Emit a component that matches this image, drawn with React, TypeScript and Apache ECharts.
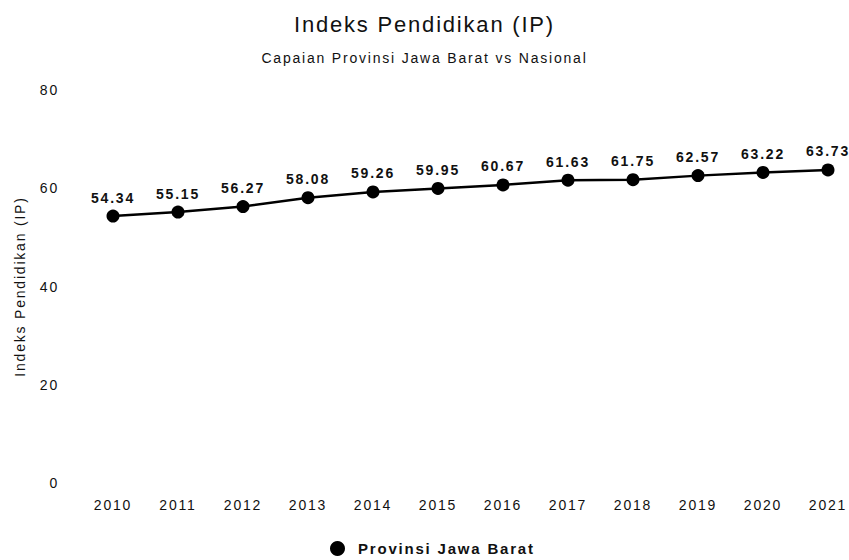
import React, { useEffect, useRef } from "react";
import * as echarts from "echarts";

const years = ["2010", "2011", "2012", "2013", "2014", "2015", "2016", "2017", "2018", "2019", "2020", "2021"];
const jabarIP = [54.34, 55.15, 56.27, 58.08, 59.26, 59.95, 60.67, 61.63, 61.75, 62.57, 63.22, 63.73];
const seriesName = "Provinsi Jawa Barat";
const titleText = "Indeks Pendidikan (IP)";
const subtitleText = "Capaian Provinsi Jawa Barat vs Nasional";
const yAxisName = "Indeks Pendidikan (IP)";
const yMin = 0;
const yMax = 80;
const yInterval = 20;

const FONT = "'Liberation Sans', Arial, Helvetica, sans-serif";

export default function App() {
  const ref = useRef<HTMLDivElement>(null);

  useEffect(() => {
    if (!ref.current) return;
    const chart = echarts.init(ref.current, undefined, { renderer: "svg" });
    chart.setOption({
      animation: false,
      backgroundColor: "#ffffff",
      title: {
        text: titleText,
        subtext: subtitleText,
        left: "center",
        top: 8,
        itemGap: 16,
        textStyle: { fontFamily: FONT, fontSize: 22, fontWeight: "normal", color: "#111" },
        subtextStyle: { fontFamily: FONT, fontSize: 14, color: "#111" },
      },
      legend: {
        data: [seriesName],
        top: 536,
        left: 325,
        icon: "circle",
        itemWidth: 31,
        itemHeight: 15,
        textStyle: { fontFamily: FONT, fontSize: 15, fontWeight: "bold", color: "#111" },
      },
      grid: { left: 113, right: 21, top: 90, bottom: 77, containLabel: false },
      xAxis: {
        type: "category",
        data: years,
        boundaryGap: false,
        axisLine: { show: false },
        axisTick: { show: false },
        splitLine: { show: false },
        axisLabel: { fontFamily: FONT, fontSize: 14, color: "#111", margin: 15 },
      },
      yAxis: {
        type: "value",
        min: yMin,
        max: yMax,
        interval: yInterval,
        name: yAxisName,
        nameLocation: "middle",
        nameGap: 86,
        nameTextStyle: { fontFamily: FONT, fontSize: 14, color: "#111" },
        axisLine: { show: false },
        axisTick: { show: false },
        splitLine: { show: false },
        axisLabel: { fontFamily: FONT, fontSize: 14, color: "#111", margin: 54 },
      },
      series: [
        {
          name: seriesName,
          type: "line",
          data: jabarIP,
          color: "#000",
          symbol: "circle",
          symbolSize: 13,
          lineStyle: { color: "#000", width: 2.5 },
          itemStyle: { color: "#000" },
          label: {
            show: true,
            position: "top",
            fontFamily: FONT,
            fontSize: 14,
            fontWeight: "bold",
            color: "#111",
          },
        },
      ],
    });
    return () => chart.dispose();
  }, []);

  return (
    <>
      <style>{`#ip-chart svg text { letter-spacing: 1.8px; }`}</style>
      <div
        id="ip-chart"
        ref={ref}
        style={{ position: "absolute", left: 0, top: 0, width: 849, height: 560 }}
      />
    </>
  );
}
